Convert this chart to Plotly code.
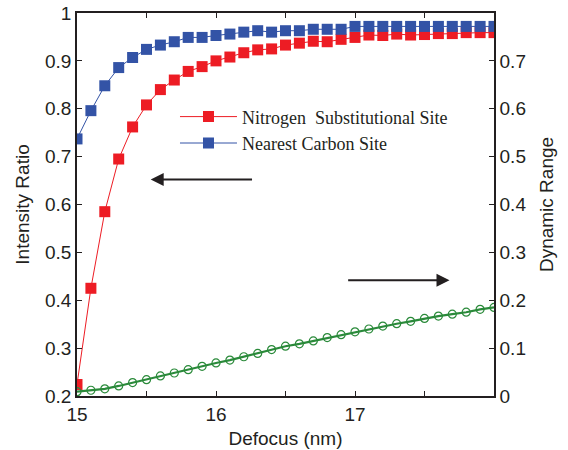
import plotly.graph_objects as go

defocus = [round(15 + 0.1 * i, 1) for i in range(31)]

nitrogen_ratio = [0.224, 0.425, 0.585, 0.695, 0.762, 0.808, 0.840, 0.860, 0.878, 0.888,
                  0.900, 0.908, 0.917, 0.923, 0.925, 0.933, 0.937, 0.941, 0.940, 0.945,
                  0.949, 0.954, 0.953, 0.956, 0.954, 0.955, 0.957, 0.957, 0.959, 0.959, 0.959]

carbon_ratio = [0.737, 0.796, 0.848, 0.886, 0.907, 0.924, 0.933, 0.940, 0.949, 0.949,
                0.953, 0.956, 0.960, 0.963, 0.960, 0.963, 0.963, 0.966, 0.966, 0.966,
                0.972, 0.972, 0.972, 0.972, 0.972, 0.972, 0.972, 0.972, 0.972, 0.972, 0.972]

dynamic_range = [0.009, 0.012, 0.015, 0.021, 0.028, 0.034, 0.042, 0.048, 0.055, 0.062,
                 0.069, 0.075, 0.082, 0.089, 0.097, 0.104, 0.109, 0.115, 0.122, 0.128,
                 0.134, 0.140, 0.146, 0.151, 0.156, 0.162, 0.167, 0.171, 0.175, 0.181, 0.185]

x_ticks = [15, 15.5, 16, 16.5, 17, 17.5, 18]
x_ticklabels = ["15", "", "16", "", "17", "", ""]
left_ticks = [0.2, 0.3, 0.4, 0.5, 0.6, 0.7, 0.8, 0.9, 1]
left_ticklabels = ["0.2", "0.3", "0.4", "0.5", "0.6", "0.7", "0.8", "0.9", "1"]
right_ticks = [0, 0.1, 0.2, 0.3, 0.4, 0.5, 0.6, 0.7]
right_ticklabels = ["0", "0.1", "0.2", "0.3", "0.4", "0.5", "0.6", "0.7"]

RED = "#ed1c24"
BLUE = "#3353a6"
GREEN = "#2a8a3a"
INK = "#231f20"

fig = go.Figure()
fig.add_trace(go.Scatter(x=defocus, y=nitrogen_ratio, mode="lines+markers",
                         name="Nitrogen\u00a0\u00a0Substitutional Site",
                         line=dict(color=RED, width=1),
                         marker=dict(symbol="square", size=11, color=RED)))
fig.add_trace(go.Scatter(x=defocus, y=carbon_ratio, mode="lines+markers",
                         name="Nearest Carbon Site",
                         line=dict(color=BLUE, width=1),
                         marker=dict(symbol="square", size=11, color=BLUE)))
fig.add_trace(go.Scatter(x=defocus, y=dynamic_range, mode="lines+markers", yaxis="y2",
                         showlegend=False,
                         line=dict(color=GREEN, width=2.2),
                         marker=dict(symbol="circle-open", size=8, color=GREEN,
                                     line=dict(width=1.2, color=GREEN))))

tickfont = dict(family="Liberation Sans, Arial", size=19, color=INK)
titlefont = dict(family="Liberation Sans, Arial", size=19, color=INK)

fig.update_layout(
    width=568, height=450,
    margin=dict(l=77, r=74, t=13, b=54),
    paper_bgcolor="white", plot_bgcolor="white",
    xaxis=dict(range=[15, 18], tickvals=x_ticks, ticktext=x_ticklabels, automargin=False,
               ticks="inside", ticklen=5, tickcolor=INK, showgrid=False, zeroline=False,
               showline=True, linecolor=INK, linewidth=1.5, mirror="ticks",
               tickfont=tickfont, title=dict(text="Defocus (nm)", font=titlefont, standoff=8)),
    yaxis=dict(range=[0.2, 1], tickvals=left_ticks, ticktext=left_ticklabels, automargin=False,
               ticks="inside", ticklen=5, tickcolor=INK, showgrid=False, zeroline=False,
               showline=True, linecolor=INK, linewidth=1.5,
               tickfont=tickfont, title=dict(text="Intensity Ratio", font=titlefont, standoff=10)),
    yaxis2=dict(range=[0, 0.8], overlaying="y", side="right", automargin=False,
                tickvals=right_ticks, ticktext=right_ticklabels,
                ticks="inside", ticklen=5, tickcolor=INK, showgrid=False, zeroline=False,
                showline=True, linecolor=INK, linewidth=1.5,
                tickfont=tickfont, title=dict(text="Dynamic Range", font=titlefont, standoff=14)),
    legend=dict(x=0.235, y=0.777, xanchor="left", yanchor="top",
                bgcolor="rgba(0,0,0,0)", borderwidth=0,
                font=dict(family="Liberation Serif, Times New Roman", size=18, color=INK),
                tracegroupgap=0, itemwidth=57),
    showlegend=True,
)

fig.add_annotation(x=15.53, y=0.652, ax=16.27, ay=0.652, xref="x", yref="y",
                   axref="x", ayref="y", showarrow=True, arrowhead=2, arrowsize=1.3,
                   arrowwidth=2, arrowcolor=INK, text="")
fig.add_annotation(x=17.68, y=0.242, ax=16.94, ay=0.242, xref="x", yref="y2",
                   axref="x", ayref="y2", showarrow=True, arrowhead=2, arrowsize=1.3,
                   arrowwidth=2, arrowcolor=INK, text="")

fig.write_html("out.html", config={"displayModeBar": False},
               post_script="document.body.style.margin='0';")
